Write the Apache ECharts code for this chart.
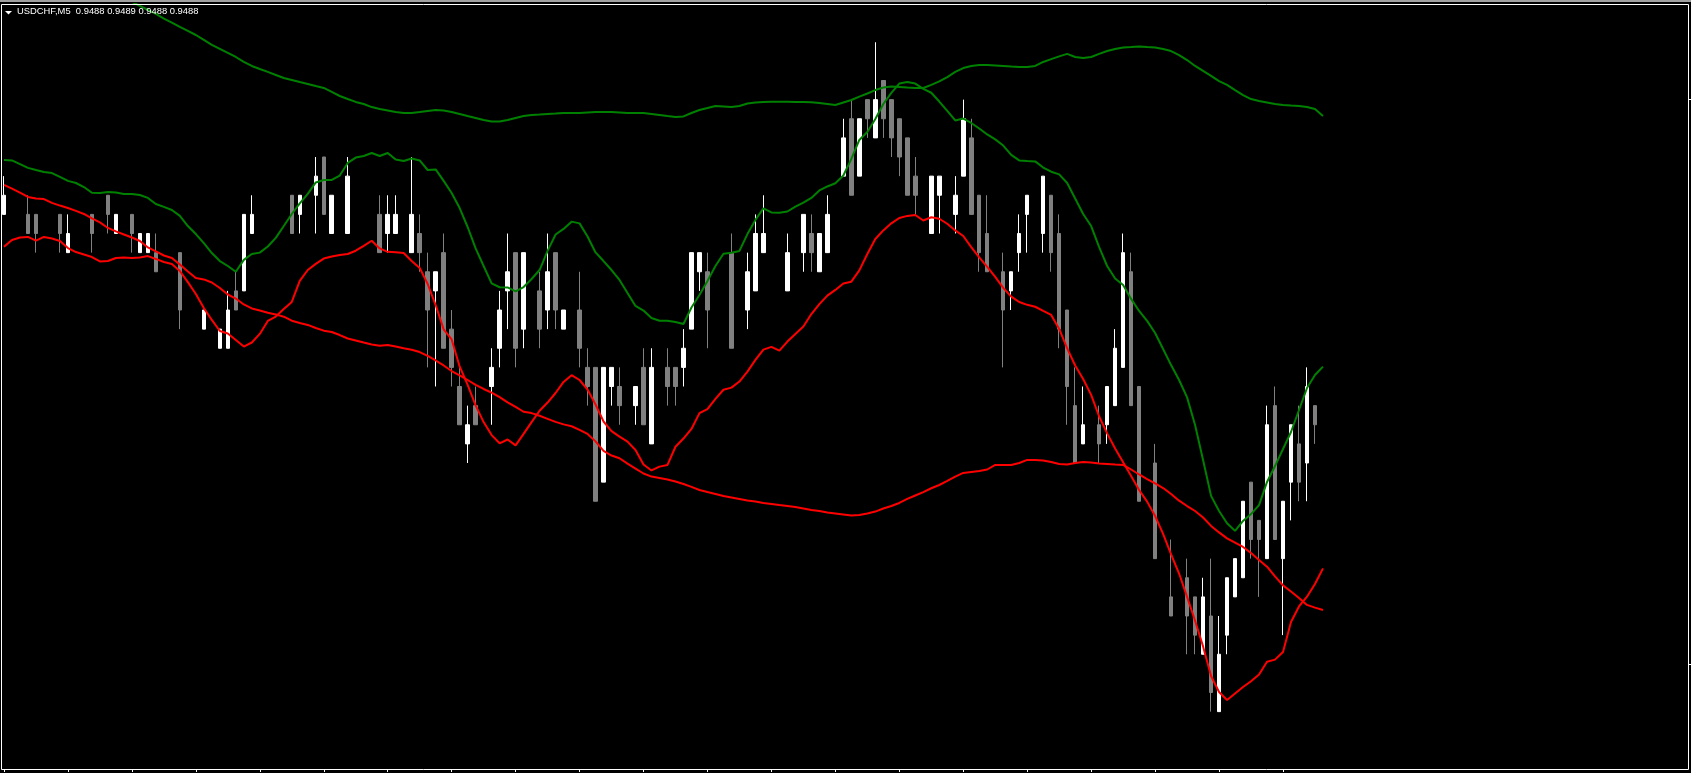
<!DOCTYPE html>
<html><head><meta charset="utf-8">
<script src="https://cdn.jsdelivr.net/npm/echarts@6/dist/echarts.min.js"></script>
<style>html,body{margin:0;padding:0;background:#000;overflow:hidden}#c{width:1691px;height:773px}</style>
</head><body><div id="c"></div>
<script>
const chartTitle = 'USDCHF,M5  0.9488 0.9489 0.9488 0.9488';
const barSlots = 211;
const categories = Array.from({length: barSlots}, (_, i) => 'bar ' + (i + 1));
const priceTicks = [0.94755, 0.9505];

const opens = [
0.9499,null,null,0.9499,0.9499,null,null,0.9499,0.9497,null,
null,0.9499,null,0.9500,0.9498,null,0.9499,0.9497,0.9497,0.9497,
null,null,0.9497,null,null,0.9493,null,0.9492,0.9492,0.9495,
0.9495,0.9498,null,null,null,null,0.9500,0.9499,null,0.9500,
0.9502,0.9498,null,0.9498,null,null,null,0.9499,0.9498,0.9498,
null,0.9497,0.9498,0.9496,0.9495,0.9497,0.9493,0.9490,0.9487,0.9489,
null,0.9490,0.9492,0.9495,0.9497,0.9493,null,0.9495,0.9494,0.9497,
0.9493,null,0.9494,0.9491,0.9491,0.9485,0.9490,0.9490,null,0.9489,
0.9491,0.9487,null,0.9491,0.9491,0.9491,0.9493,0.9496,0.9496,null,
null,0.9497,null,0.9494,0.9495,0.9497,null,null,0.9495,null,
0.9497,0.9498,0.9496,0.9497,null,0.9501,0.9504,0.9501,0.9505,0.9503,
0.9506,0.9505,0.9504,0.9503,0.9501,null,0.9498,0.9500,null,0.9499,
0.9501,0.9503,0.9500,0.9498,null,0.9496,0.9495,0.9497,0.9499,null,
0.9498,0.9500,0.9498,0.9494,0.9489,0.9487,null,0.9488,0.9488,0.9489,
0.9491,0.9496,0.9490,null,0.9486,null,0.9479,null,0.9480,0.9479,
0.9476,0.9478,0.9473,0.9477,0.9479,0.9480,0.9485,0.9483,0.9481,0.9489,
0.9481,0.9485,0.9487,0.9486,0.9489,null];

const closes = [
0.9500,null,null,0.9498,0.9498,null,null,0.9498,0.9498,null,
null,0.9498,null,0.9499,0.9499,null,0.9498,0.9498,0.9498,0.9496,
null,null,0.9494,null,null,0.9494,null,0.9493,0.9494,0.9494,
0.9499,0.9499,null,null,null,null,0.9498,0.9500,null,0.9501,
0.9499,0.9500,null,0.9501,null,null,null,0.9497,0.9499,0.9499,
null,0.9499,0.9497,0.9494,0.9496,0.9492,0.9491,0.9488,0.9488,0.9488,
null,0.9491,0.9494,0.9496,0.9492,0.9497,null,0.9493,0.9496,0.9494,
0.9494,null,0.9492,0.9490,0.9484,0.9491,0.9491,0.9489,null,0.9490,
0.9488,0.9491,null,0.9490,0.9490,0.9492,0.9497,0.9497,0.9494,null,
null,0.9492,null,0.9496,0.9498,0.9498,null,null,0.9497,null,
0.9499,0.9497,0.9498,0.9499,null,0.9503,0.9500,0.9504,0.9504,0.9505,
0.9504,0.9503,0.9502,0.9500,0.9500,null,0.9501,0.9501,null,0.9500,
0.9504,0.9499,0.9497,0.9496,null,0.9494,0.9496,0.9498,0.9500,null,
0.9501,0.9497,0.9493,0.9490,0.9486,0.9488,null,0.9487,0.9490,0.9492,
0.9497,0.9489,0.9484,null,0.9481,null,0.9478,null,0.9478,0.9477,
0.9479,0.9474,0.9476,0.9480,0.9481,0.9484,0.9482,0.9482,0.9488,0.9482,
0.9484,0.9488,0.9485,0.9490,0.9488,null];

const lows = [
0.9499,null,null,0.9498,0.9497,null,null,0.9497,0.9497,null,
null,0.9497,null,0.9498,0.9498,null,0.9497,0.9497,0.9497,0.9496,
null,null,0.9493,null,null,0.9493,null,0.9492,0.9492,0.9494,
0.9495,0.9498,null,null,null,null,0.9498,0.9498,null,0.9498,
0.9499,0.9498,null,0.9498,null,null,null,0.9497,0.9497,0.9498,
null,0.9497,0.9496,0.9491,0.9490,0.9492,0.9490,0.9488,0.9486,0.9488,
null,0.9488,0.9491,0.9493,0.9491,0.9492,null,0.9492,0.9493,0.9493,
0.9493,null,0.9491,0.9489,0.9484,0.9485,0.9489,0.9488,null,0.9488,
0.9488,0.9487,null,0.9489,0.9489,0.9490,0.9493,0.9495,0.9492,null,
null,0.9492,null,0.9493,0.9495,0.9497,null,null,0.9495,null,
0.9496,0.9496,0.9496,0.9497,null,0.9501,0.9500,0.9501,0.9503,0.9503,
0.9503,0.9502,0.9501,0.9500,0.9499,null,0.9498,0.9498,null,0.9498,
0.9501,0.9499,0.9496,0.9496,null,0.9491,0.9494,0.9496,0.9497,null,
0.9497,0.9496,0.9492,0.9488,0.9486,0.9487,null,0.9486,0.9487,0.9489,
0.9491,0.9489,0.9484,null,0.9481,null,0.9478,null,0.9476,0.9476,
0.9476,0.9473,0.9473,0.9476,0.9479,0.9480,0.9481,0.9479,0.9481,0.9482,
0.9477,0.9483,0.9484,0.9484,0.9487,null];

const highs = [
0.9501,null,null,0.9500,0.9499,null,null,0.9499,0.9499,null,
null,0.9499,null,0.9500,0.9499,null,0.9499,0.9498,0.9498,0.9498,
null,null,0.9497,null,null,0.9494,null,0.9493,0.9495,0.9496,
0.9499,0.9500,null,null,null,null,0.9500,0.9500,null,0.9502,
0.9502,0.9500,null,0.9502,null,null,null,0.9500,0.9500,0.9500,
null,0.9502,0.9499,0.9497,0.9496,0.9498,0.9494,0.9491,0.9489,0.9490,
null,0.9492,0.9495,0.9498,0.9497,0.9497,null,0.9496,0.9498,0.9497,
0.9494,null,0.9496,0.9492,0.9491,0.9491,0.9491,0.9491,null,0.9490,
0.9492,0.9492,null,0.9492,0.9491,0.9493,0.9497,0.9497,0.9497,null,
null,0.9498,null,0.9497,0.9499,0.9500,null,null,0.9498,null,
0.9499,0.9499,0.9498,0.9500,null,0.9504,0.9505,0.9504,0.9505,0.9508,
0.9506,0.9505,0.9504,0.9503,0.9502,null,0.9501,0.9501,null,0.9501,
0.9505,0.9504,0.9500,0.9500,null,0.9497,0.9496,0.9499,0.9500,null,
0.9501,0.9500,0.9499,0.9494,0.9491,0.9490,null,0.9489,0.9490,0.9493,
0.9498,0.9497,0.9490,null,0.9487,null,0.9482,null,0.9481,0.9479,
0.9480,0.9481,0.9478,0.9480,0.9481,0.9484,0.9485,0.9483,0.9489,0.9490,
0.9484,0.9488,0.9489,0.9491,0.9489,null];

const upperShort = [
0.950184,0.950182,0.950163,0.950143,0.950132,0.950122,0.950116,0.950096,0.950075,0.950064,
0.950043,0.950013,0.950012,0.950017,0.950014,0.950007,0.950007,0.950001,0.949986,0.949954,
0.949939,0.949923,0.949892,0.949839,0.949797,0.949750,0.949698,0.949656,0.949630,0.949600,
0.949662,0.949693,0.949700,0.949732,0.949777,0.949839,0.949902,0.949957,0.950007,0.950067,
0.950080,0.950080,0.950103,0.950169,0.950197,0.950205,0.950221,0.950205,0.950221,0.950187,
0.950179,0.950192,0.950182,0.950132,0.950135,0.950075,0.950012,0.949933,0.949834,0.949722,
0.949630,0.949539,0.949519,0.949518,0.949497,0.949520,0.949562,0.949609,0.949709,0.949795,
0.949824,0.949862,0.949853,0.949784,0.949701,0.949656,0.949609,0.949557,0.949489,0.949421,
0.949397,0.949358,0.949344,0.949344,0.949337,0.949327,0.949413,0.949478,0.949552,0.949630,
0.949694,0.949699,0.949709,0.949797,0.949871,0.949931,0.949910,0.949909,0.949915,0.949940,
0.949962,0.949986,0.950025,0.950046,0.950063,0.950103,0.950190,0.950289,0.950331,0.950399,
0.950477,0.950535,0.950584,0.950592,0.950584,0.950556,0.950536,0.950490,0.950441,0.950391,
0.950401,0.950378,0.950349,0.950318,0.950292,0.950260,0.950211,0.950182,0.950179,0.950177,
0.950145,0.950123,0.950109,0.950064,0.949983,0.949902,0.949839,0.949729,0.949630,0.949565,
0.949531,0.949458,0.949395,0.949343,0.949280,0.949196,0.949112,0.949034,0.948943,0.948799,
0.948616,0.948428,0.948349,0.948285,0.948245,0.948297,0.948333,0.948380,0.948501,0.948584,
0.948673,0.948762,0.948877,0.948992,0.949060,0.949104];

const lowerShort = [
0.949731,0.949766,0.949779,0.949782,0.949763,0.949782,0.949774,0.949761,0.949724,0.949703,
0.949690,0.949677,0.949654,0.949656,0.949672,0.949675,0.949672,0.949675,0.949682,0.949667,
0.949651,0.949641,0.949604,0.949546,0.949484,0.949410,0.949348,0.949290,0.949277,0.949243,
0.949209,0.949230,0.949275,0.949343,0.949366,0.949405,0.949442,0.949552,0.949609,0.949641,
0.949669,0.949680,0.949688,0.949693,0.949710,0.949735,0.949762,0.949722,0.949704,0.949702,
0.949698,0.949656,0.949620,0.949536,0.949426,0.949299,0.949246,0.949105,0.949008,0.948901,
0.948814,0.948746,0.948703,0.948723,0.948692,0.948752,0.948814,0.948873,0.948916,0.948966,
0.949024,0.949059,0.949034,0.948984,0.948906,0.948817,0.948767,0.948738,0.948712,0.948668,
0.948592,0.948561,0.948581,0.948590,0.948685,0.948728,0.948778,0.948861,0.948882,0.948935,
0.948983,0.948994,0.949026,0.949078,0.949139,0.949193,0.949207,0.949188,0.949235,0.949275,
0.949314,0.949379,0.949431,0.949475,0.949505,0.949539,0.949548,0.949607,0.949693,0.949771,
0.949816,0.949853,0.949881,0.949892,0.949897,0.949868,0.949885,0.949877,0.949851,0.949816,
0.949787,0.949729,0.949675,0.949625,0.949573,0.949516,0.949470,0.949442,0.949427,0.949417,
0.949395,0.949374,0.949301,0.949199,0.949110,0.949039,0.948956,0.948843,0.948755,0.948676,
0.948604,0.948532,0.948459,0.948398,0.948323,0.948229,0.948122,0.948022,0.947900,0.947775,
0.947641,0.947486,0.947403,0.947361,0.947395,0.947429,0.947459,0.947494,0.947561,0.947572,
0.947612,0.947769,0.947850,0.947901,0.947967,0.948049];

const upperLong = [
0.951309,0.951288,0.951267,0.951246,0.951225,0.951204,0.951183,0.951162,0.951141,0.951126,
0.951110,0.951094,0.951079,0.951063,0.951047,0.951031,0.951011,0.950990,0.950969,0.950948,
0.950924,0.950903,0.950880,0.950859,0.950838,0.950812,0.950786,0.950765,0.950744,0.950723,
0.950697,0.950676,0.950660,0.950645,0.950629,0.950613,0.950603,0.950592,0.950582,0.950571,
0.950561,0.950540,0.950519,0.950503,0.950488,0.950477,0.950461,0.950451,0.950443,0.950435,
0.950430,0.950430,0.950435,0.950441,0.950446,0.950443,0.950435,0.950425,0.950414,0.950404,
0.950393,0.950386,0.950386,0.950393,0.950404,0.950414,0.950420,0.950422,0.950425,0.950427,
0.950430,0.950430,0.950430,0.950433,0.950435,0.950435,0.950435,0.950433,0.950430,0.950430,
0.950430,0.950425,0.950420,0.950414,0.950409,0.950412,0.950430,0.950446,0.950456,0.950467,
0.950464,0.950461,0.950467,0.950480,0.950485,0.950488,0.950489,0.950489,0.950489,0.950488,
0.950488,0.950486,0.950482,0.950477,0.950472,0.950485,0.950498,0.950516,0.950532,0.950550,
0.950563,0.950569,0.950566,0.950563,0.950561,0.950561,0.950577,0.950595,0.950618,0.950645,
0.950665,0.950676,0.950681,0.950681,0.950679,0.950676,0.950673,0.950671,0.950671,0.950676,
0.950697,0.950712,0.950726,0.950739,0.950723,0.950718,0.950723,0.950739,0.950754,0.950765,
0.950773,0.950775,0.950778,0.950775,0.950773,0.950765,0.950754,0.950733,0.950707,0.950676,
0.950650,0.950624,0.950597,0.950577,0.950550,0.950524,0.950503,0.950493,0.950485,0.950477,
0.950472,0.950469,0.950467,0.950461,0.950451,0.950414];

const lowerLong = [
0.950054,0.950035,0.950014,0.949991,0.949983,0.949980,0.949960,0.949946,0.949933,0.949918,
0.949902,0.949879,0.949858,0.949829,0.949811,0.949795,0.949779,0.949761,0.949727,0.949706,
0.949685,0.949672,0.949638,0.949601,0.949567,0.949560,0.949544,0.949515,0.949481,0.949460,
0.949429,0.949408,0.949397,0.949386,0.949377,0.949365,0.949344,0.949332,0.949322,0.949306,
0.949292,0.949285,0.949269,0.949251,0.949241,0.949230,0.949220,0.949213,0.949217,0.949209,
0.949200,0.949192,0.949180,0.949160,0.949136,0.949110,0.949081,0.949058,0.949034,0.949009,
0.948987,0.948968,0.948944,0.948917,0.948893,0.948868,0.948861,0.948847,0.948831,0.948815,
0.948802,0.948792,0.948773,0.948752,0.948713,0.948663,0.948639,0.948625,0.948597,0.948571,
0.948545,0.948529,0.948522,0.948514,0.948503,0.948490,0.948475,0.948459,0.948448,0.948438,
0.948427,0.948420,0.948412,0.948404,0.948399,0.948391,0.948386,0.948380,0.948375,0.948370,
0.948362,0.948354,0.948349,0.948341,0.948336,0.948331,0.948326,0.948328,0.948336,0.948346,
0.948362,0.948375,0.948391,0.948412,0.948430,0.948448,0.948468,0.948485,0.948506,0.948529,
0.948548,0.948553,0.948558,0.948566,0.948590,0.948590,0.948590,0.948600,0.948616,0.948616,
0.948613,0.948605,0.948595,0.948592,0.948600,0.948605,0.948603,0.948598,0.948595,0.948592,
0.948590,0.948566,0.948540,0.948516,0.948493,0.948469,0.948438,0.948403,0.948375,0.948349,
0.948315,0.948271,0.948237,0.948206,0.948184,0.948161,0.948129,0.948093,0.948058,0.948007,
0.947960,0.947928,0.947894,0.947858,0.947844,0.947831];

const candleData = opens.map((o, i) => o === null ? ['-', '-', '-', '-'] : [o, closes[i], lows[i], highs[i]]);
const lastBar = opens.length - 1;

const chart = echarts.init(document.getElementById('c'), null, {renderer: 'canvas'});
function lineSeries(name, data, color) {
  return {name, type: 'line', data, symbol: 'none', showSymbol: false, smooth: false, clip: true,
    lineStyle: {color, width: 2}, z: 3, silent: true};
}
chart.setOption({
  backgroundColor: '#000',
  animation: false,
  grid: {left: -1.3, right: 4.3, top: 4, bottom: 4, show: false},
  xAxis: {type: 'category', data: categories, boundaryGap: true,
    axisLine: {show: false},
    axisTick: {show: true, alignWithLabel: true, length: 3, inside: false,
      interval: (idx) => idx % 8 === 0 && idx <= lastBar, lineStyle: {color: '#ffffff', width: 1}},
    axisLabel: {show: false}, splitLine: {show: false}},
  yAxis: {type: 'value', position: 'right', offset: 2, min: 0.9470, max: 0.9510, scale: true,
    axisLine: {show: false},
    axisTick: {show: true, customValues: priceTicks, length: 3, lineStyle: {color: '#ffffff'}},
    axisLabel: {show: false}, splitLine: {show: false}},
  graphic: [
    {type: 'rect', shape: {x: 0, y: 0, width: 1691, height: 2}, style: {fill: '#a0a0a0'}, z: 10, silent: true},
    {type: 'rect', shape: {x: 1.5, y: 4.5, width: 1687, height: 765}, style: {fill: null, stroke: '#ffffff', lineWidth: 1}, z: 10, silent: true},
    {type: 'polygon', shape: {points: [[5, 11], [12, 11], [8.5, 14.5]]}, style: {fill: '#ffffff'}, z: 11, silent: true},
    {type: 'text', left: 17, top: 7, style: {text: chartTitle, fill: '#ffffff', font: '9.4px "Liberation Sans", Arial, sans-serif'}, z: 11, silent: true}
  ],
  series: [
    {name: 'USDCHF', type: 'candlestick', data: candleData, barWidth: 4, z: 2,
      itemStyle: {color: '#ffffff', color0: '#808080', borderColor: '#ffffff', borderColor0: '#808080', borderWidth: 1}},
    lineSeries('Upper band long', upperLong, '#008000'),
    lineSeries('Upper band', upperShort, '#008000'),
    lineSeries('Lower band long', lowerLong, '#ff0000'),
    lineSeries('Lower band', lowerShort, '#ff0000')
  ]
});
</script></body></html>
